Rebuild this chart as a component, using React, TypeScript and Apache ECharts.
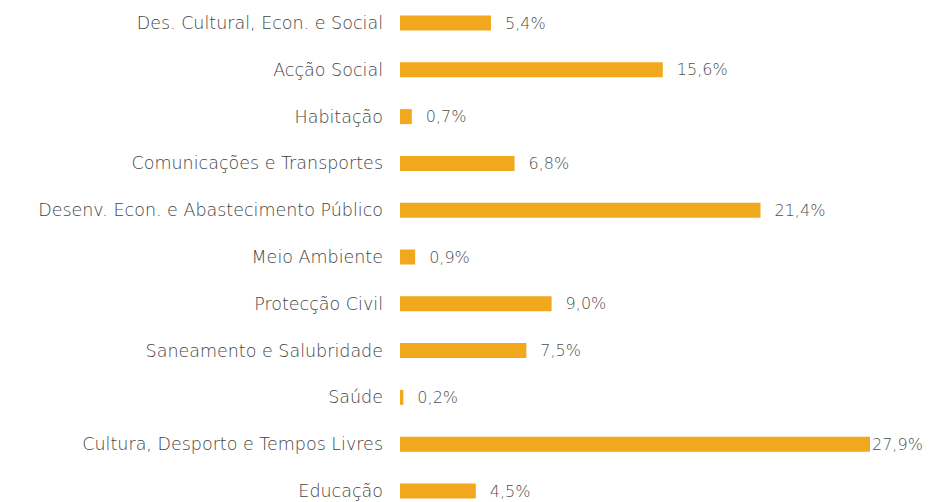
import React, { useEffect, useRef } from "react";
import * as echarts from "echarts";

const categories = [
  "Des. Cultural, Econ. e Social",
  "Acção Social",
  "Habitação",
  "Comunicações e Transportes",
  "Desenv. Econ. e Abastecimento Público",
  "Meio Ambiente",
  "Protecção Civil",
  "Saneamento e Salubridade",
  "Saúde",
  "Cultura, Desporto e Tempos Livres",
  "Educação",
];
const values = [5.4, 15.6, 0.7, 6.8, 21.4, 0.9, 9.0, 7.5, 0.2, 27.9, 4.5];

export default function App() {
  const ref = useRef<HTMLDivElement>(null);
  useEffect(() => {
    document.body.style.margin = "0";
    const chart = echarts.init(ref.current!, null, { renderer: "svg" });
    chart.setOption({
      animation: false,
      backgroundColor: "#ffffff",
      grid: { left: 400, right: 64, top: 23, bottom: 11, containLabel: false },
      xAxis: { type: "value", min: 0, max: 27.9, show: false },
      yAxis: {
        type: "category",
        inverse: true,
        boundaryGap: false,
        data: categories,
        axisLine: { show: false },
        axisTick: { show: false },
        axisLabel: {
          margin: 17,
          color: "#444444",
          fontFamily: "DejaVu Sans",
          fontWeight: 200,
          fontSize: 17.5,
        },
      },
      series: [
        {
          type: "bar",
          barWidth: 15,
          itemStyle: { color: "#F2A81D" },
          data: values.map((v) => ({
            value: v,
            label: { distance: v > 25 ? 2 : 14 },
          })),
          label: {
            show: true,
            position: "right",
            color: "#505050",
            fontFamily: "DejaVu Sans",
            fontWeight: 200,
            fontSize: 16,
            formatter: (p: any) => p.value.toFixed(1).replace(".", ",") + "%",
          },
        },
      ],
    });
    return () => chart.dispose();
  }, []);
  return <div ref={ref} style={{ width: 934, height: 502 }} />;
}
